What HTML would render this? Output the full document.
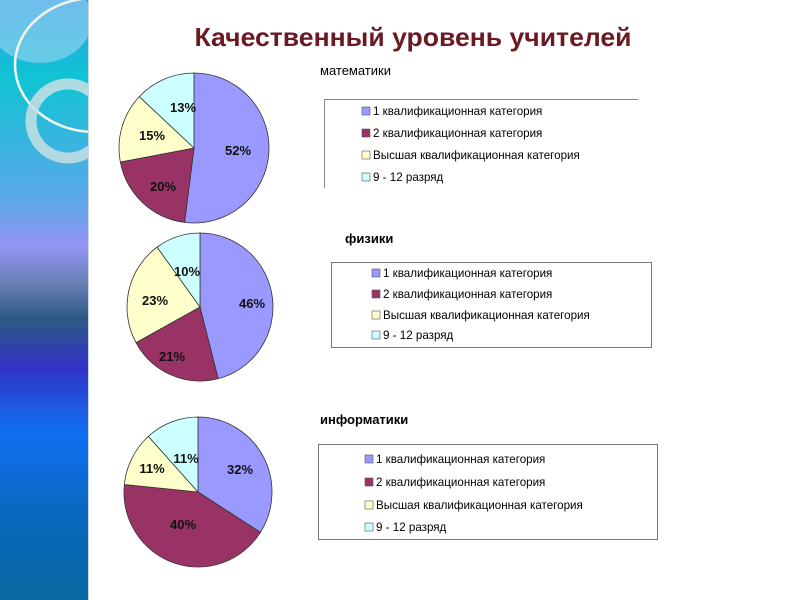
<!DOCTYPE html>
<html><head><meta charset="utf-8">
<style>
html,body{margin:0;padding:0;background:#fff;}
svg{display:block;font-family:"Liberation Sans","DejaVu Sans",sans-serif;}
</style></head><body>
<svg id="s" width="800" height="600" viewBox="0 0 800 600" xmlns="http://www.w3.org/2000/svg">
<defs>
<linearGradient id="g" x1="0" y1="0" x2="0" y2="1">
<stop offset="0" stop-color="#2a9ee8"/>
<stop offset="0.13" stop-color="#10c4d4"/>
<stop offset="0.33" stop-color="#5aa8e8"/>
<stop offset="0.41" stop-color="#9494f2"/>
<stop offset="0.47" stop-color="#6a80b8"/>
<stop offset="0.53" stop-color="#2e5a84"/>
<stop offset="0.61" stop-color="#3232c4"/>
<stop offset="0.72" stop-color="#1070f2"/>
<stop offset="0.85" stop-color="#0a68c0"/>
<stop offset="1" stop-color="#0868a0"/>
</linearGradient>
<clipPath id="c"><rect x="0" y="0" width="88" height="600"/></clipPath>
</defs>
<rect x="0" y="0" width="88" height="600" fill="url(#g)"/>
<g clip-path="url(#c)">
<ellipse cx="40" cy="20" rx="52" ry="43" fill="#a8d8f0" opacity="0.55"/>
<ellipse cx="95" cy="65" rx="80" ry="67" fill="none" stroke="#f4f4ec" stroke-width="2.5"/>
<circle cx="68" cy="121" r="37" fill="none" stroke="#c8e0e4" stroke-width="11" opacity="0.85"/>
</g>
<line x1="88.5" y1="0" x2="88.5" y2="600" stroke="#c8d8e8" stroke-width="1"/>
<text x="413" y="46" text-anchor="middle" font-size="26" font-weight="bold" fill="#6b1a24" textLength="437" lengthAdjust="spacingAndGlyphs">Качественный уровень учителей</text>
<g id="pies"></g>
<g font-size="11" fill="#000">
<text x="320" y="75" font-size="13">математики</text>
<path d="M638 99.5 H324.5 V188" fill="none" stroke="#888"/>
<text x="345" y="243" font-size="13" font-weight="bold">физики</text>
<rect x="331.5" y="262.5" width="320" height="85" fill="none" stroke="#777"/>
<text x="320" y="424" font-size="13" font-weight="bold">информатики</text>
<rect x="318.5" y="444.5" width="339" height="95" fill="none" stroke="#777"/>
</g>
<g id="leg"></g>
</svg>
<script>
var ns="http://www.w3.org/2000/svg";
var cols=["#9999ff","#993366","#ffffcc","#ccffff"];
function el(t,a,p,txt){var e=document.createElementNS(ns,t);for(var k in a)e.setAttribute(k,a[k]);if(txt)e.textContent=txt;p.appendChild(e);return e;}
var pies=document.getElementById("pies");
function pie(cx,cy,rx,ry,vals,labels,lp){
 var tot=vals.reduce(function(a,b){return a+b},0),a=0;
 vals.forEach(function(v,i){
  var a0=a/tot*2*Math.PI;a+=v;var a1=a/tot*2*Math.PI;
  var x0=cx+rx*Math.sin(a0),y0=cy-ry*Math.cos(a0),x1=cx+rx*Math.sin(a1),y1=cy-ry*Math.cos(a1);
  var lg=(a1-a0)>Math.PI?1:0;
  el("path",{d:"M"+cx+" "+cy+" L"+x0+" "+y0+" A"+rx+" "+ry+" 0 "+lg+" 1 "+x1+" "+y1+" Z",fill:cols[i],stroke:"#333","stroke-width":"0.8"},pies);
 });
 labels.forEach(function(l,i){el("text",{x:lp[i][0],y:lp[i][1],"text-anchor":"middle","font-size":"13","font-weight":"bold",fill:"#111"},pies,l);});
}
pie(194,148,75,75,[52,20,15,13],["52%","20%","15%","13%"],[[238,155],[163,191],[152,140],[183,112]]);
pie(200,307,73,74,[46,21,23,10],["46%","21%","23%","10%"],[[252,308],[172,361],[155,305],[187,276]]);
pie(198,492,74,75,[32,40,11,11],["32%","40%","11%","11%"],[[240,474],[183,529],[152,473],[186,463]]);
var leg=document.getElementById("leg");
var items=["1 квалификационная категория","2 квалификационная категория","Высшая квалификационная категория","9 - 12 разряд"];
function legend(x,ys){ys.forEach(function(y,i){
 el("rect",{x:x-1,y:y-8,width:8,height:8,fill:cols[i],stroke:"#555","stroke-width":"0.6"},leg);
 el("text",{x:x+10,y:y,"font-size":"11.6",fill:"#000"},leg,items[i]);
});}
legend(363,[115,137,159,181]);
legend(373,[277,298,319,339]);
legend(366,[463,486,509,531]);
</script>
</body></html>
